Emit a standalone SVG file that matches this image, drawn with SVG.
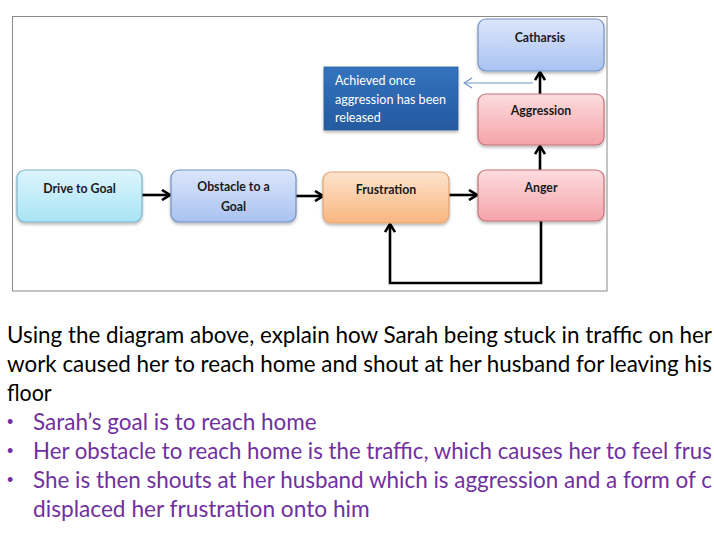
<svg xmlns="http://www.w3.org/2000/svg" width="714" height="536" viewBox="0 0 714 536">
<style>
.lbl{font-family:Lato,"Liberation Sans",sans-serif;font-weight:bold;font-size:12.3px;fill:#1a1a1a;text-anchor:middle}
.note{font-family:Lato,"Liberation Sans",sans-serif;font-size:12.5px;fill:#ffffff}
.body{font-family:Lato,"Liberation Sans",sans-serif;font-size:24px;fill:#000000}
.pur{fill:#7030A0}
.bul{font-family:"Liberation Sans",sans-serif;font-size:18px;fill:#7030A0}
.box{stroke-width:1.2}
.conn{fill:none;stroke:#000;stroke-width:2.6}
</style>
<defs>
<filter id="sh" x="-10%" y="-10%" width="120%" height="140%">
<feDropShadow dx="0" dy="2" stdDeviation="1.6" flood-color="#000" flood-opacity="0.28"/>
</filter>
<linearGradient id="gCyan" x1="0" y1="0" x2="0" y2="1"><stop offset="0" stop-color="#DDF5FC"/><stop offset="1" stop-color="#A8E4F6"/></linearGradient>
<linearGradient id="gBlue" x1="0" y1="0" x2="0" y2="1"><stop offset="0" stop-color="#DCE6FB"/><stop offset="1" stop-color="#A9C2F1"/></linearGradient>
<linearGradient id="gOrange" x1="0" y1="0" x2="0" y2="1"><stop offset="0" stop-color="#FDE3CB"/><stop offset="1" stop-color="#F9B680"/></linearGradient>
<linearGradient id="gRed" x1="0" y1="0" x2="0" y2="1"><stop offset="0" stop-color="#FCDCDE"/><stop offset="1" stop-color="#F5A4AA"/></linearGradient>
<linearGradient id="gNote" x1="0" y1="0" x2="0" y2="1"><stop offset="0" stop-color="#3473BE"/><stop offset="1" stop-color="#245A9F"/></linearGradient>
<marker id="ah" viewBox="0 0 10 12" refX="9" refY="6" markerWidth="10" markerHeight="12" markerUnits="userSpaceOnUse" orient="auto">
<path d="M1,1 L9,6 L1,11" fill="none" stroke="#000" stroke-width="2.6"/>
</marker>
<marker id="ahb" viewBox="0 0 10 12" refX="9" refY="6" markerWidth="10" markerHeight="12" markerUnits="userSpaceOnUse" orient="auto">
<path d="M1,1 L9,6 L1,11" fill="none" stroke="#6F93C4" stroke-width="1.2"/>
</marker>
</defs>
<rect x="0" y="0" width="714" height="536" fill="#ffffff"/>
<rect id="frame" x="12.5" y="16.5" width="594.5" height="274.5" fill="#ffffff" stroke="#8a8a8a" stroke-width="1"/>

<g id="connectors">
<line class="conn" x1="142" y1="195" x2="170" y2="195" marker-end="url(#ah)"/>
<line class="conn" x1="296" y1="196" x2="323" y2="196" marker-end="url(#ah)"/>
<line class="conn" x1="449" y1="195" x2="477" y2="195" marker-end="url(#ah)"/>
<line class="conn" x1="540" y1="170" x2="540" y2="146" marker-end="url(#ah)"/>
<line class="conn" x1="540" y1="94" x2="540" y2="72" marker-end="url(#ah)"/>
<path class="conn" d="M541,221 V283 H390 V224" marker-end="url(#ah)"/>
<line x1="533" y1="83" x2="464" y2="83" fill="none" stroke="#6F93C4" stroke-width="1.2" marker-end="url(#ahb)"/>
</g>

<g id="drive">
<rect class="box" x="17" y="170" width="125" height="52" rx="8" fill="url(#gCyan)" stroke="#7FB3C6" filter="url(#sh)"/>
<text class="lbl" x="79.5" y="193">Drive to Goal</text>
</g>
<g id="obstacle">
<rect class="box" x="171" y="170" width="125" height="52" rx="8" fill="url(#gBlue)" stroke="#7090C0" filter="url(#sh)"/>
<text class="lbl" x="233.5" y="191">Obstacle to a</text>
<text class="lbl" x="233.5" y="211">Goal</text>
</g>
<g id="frustration">
<rect class="box" x="323" y="172" width="126" height="51" rx="8" fill="url(#gOrange)" stroke="#E0A375" filter="url(#sh)"/>
<text class="lbl" x="386" y="194">Frustration</text>
</g>
<g id="anger">
<rect class="box" x="478" y="170" width="126" height="51" rx="8" fill="url(#gRed)" stroke="#C47278" filter="url(#sh)"/>
<text class="lbl" x="541" y="192">Anger</text>
</g>
<g id="aggression">
<rect class="box" x="478" y="94" width="126" height="51" rx="8" fill="url(#gRed)" stroke="#C47278" filter="url(#sh)"/>
<text class="lbl" x="541" y="115">Aggression</text>
</g>
<g id="catharsis">
<rect class="box" x="478" y="19" width="126" height="52" rx="8" fill="url(#gBlue)" stroke="#7393C4" filter="url(#sh)"/>
<text class="lbl" x="540" y="42">Catharsis</text>
</g>
<g id="note">
<rect x="324" y="67" width="134" height="63" fill="url(#gNote)" stroke="#2A5C98" stroke-width="0.8" filter="url(#sh)"/>
<text class="note" x="335" y="85">Achieved once</text>
<text class="note" x="335" y="104" textLength="111" lengthAdjust="spacingAndGlyphs">aggression has been</text>
<text class="note" x="335" y="122">released</text>
</g>

<g id="question">
<text class="body" transform="translate(7,343) scale(0.93,1)" textLength="758" lengthAdjust="spacingAndGlyphs">Using the diagram above, explain how Sarah being stuck in traffic on her</text>
<text class="body" transform="translate(7,372) scale(0.93,1)" textLength="758" lengthAdjust="spacingAndGlyphs">work caused her to reach home and shout at her husband for leaving his</text>
<text class="body" transform="translate(7,401) scale(0.93,1)" textLength="48" lengthAdjust="spacingAndGlyphs">floor</text>
</g>
<g id="answers">
<text class="bul" x="7" y="428">•</text>
<text class="body pur" transform="translate(33,430) scale(0.93,1)" textLength="305" lengthAdjust="spacingAndGlyphs">Sarah’s goal is to reach home</text>
<text class="bul" x="7" y="457">•</text>
<text class="body pur" transform="translate(33,459) scale(0.93,1)" textLength="730" lengthAdjust="spacingAndGlyphs">Her obstacle to reach home is the traffic, which causes her to feel frus</text>
<text class="bul" x="7" y="486">•</text>
<text class="body pur" transform="translate(33,488) scale(0.93,1)" textLength="730" lengthAdjust="spacingAndGlyphs">She is then shouts at her husband which is aggression and a form of c</text>
<text class="body pur" transform="translate(33,517) scale(0.93,1)" textLength="362" lengthAdjust="spacingAndGlyphs">displaced her frustration onto him</text>
</g>
</svg>
